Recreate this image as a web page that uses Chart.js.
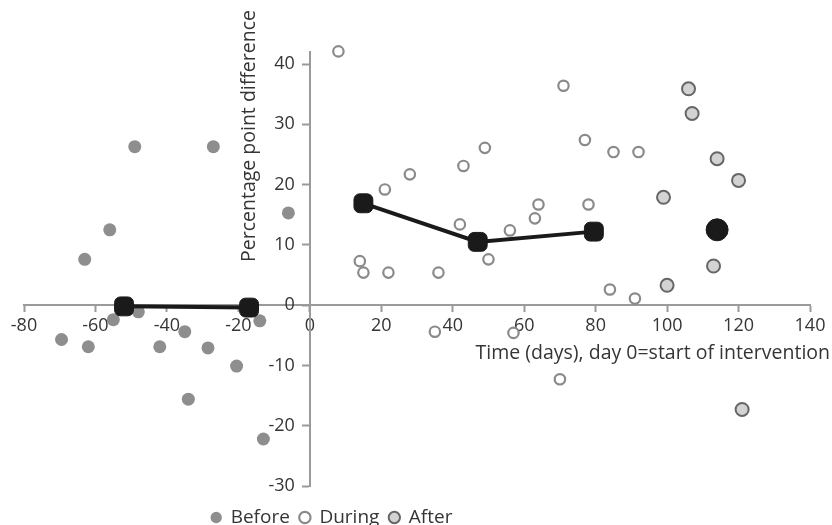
<!DOCTYPE html>
<html>
<head>
<meta charset="utf-8">
<script src="https://cdn.jsdelivr.net/npm/chart.js@4.4.1/dist/chart.umd.min.js"></script>
<style>
  html, body { margin: 0; padding: 0; background: #fff; }
  #wrap { width: 832px; height: 525px; }
</style>
</head>
<body>
<div id="wrap"><canvas id="timeChart"></canvas></div>
<script>
// values
const beforeX = [-49, -27, -56, -6, -63, -55, -48, -69.5, -62, -42, -35, -28.5, -34, -20.5, -14, -13];
const beforeY = [26.3, 26.3, 12.5, 15.3, 7.6, -2.4, -1.1, -5.7, -6.9, -6.9, -4.4, -7.1, -15.6, -10.1, -2.6, -22.2];

const duringX = [8, 21, 28, 43, 49, 71, 77, 42, 56, 63, 64, 78, 85, 92, 14, 15, 22, 36, 50, 35, 57, 70, 84, 91];
const duringY = [42.1, 19.2, 21.7, 23.1, 26.1, 36.4, 27.4, 13.4, 12.4, 14.4, 16.7, 16.7, 25.4, 25.4, 7.3, 5.4, 5.4, 5.4, 7.6, -4.4, -4.6, -12.3, 2.6, 1.1];

const afterX = [106, 107, 114, 120, 99, 100, 113, 121];
const afterY = [35.9, 31.8, 24.3, 20.7, 17.9, 3.3, 6.5, -17.3];

const meanBeforeX = [-52, -17];
const meanBeforeY = [-0.2, -0.4];
const meanDuringX = [15, 47, 79.5];
const meanDuringY = [16.9, 10.5, 12.2];
const meanAfterX = [114];
const meanAfterY = [12.5];

const xTicks = [-80, -60, -40, -20, 0, 20, 40, 60, 80, 100, 120, 140];
const yTicks = [-30, -20, -10, 0, 10, 20, 30, 40];

const xTitle = "Time (days), day 0=start of intervention";
const yTitle = "Percentage point difference";

const toPoints = (xs, ys) => xs.map((x, i) => ({ x: x, y: ys[i] }));

const axisGrey = "#9a9a9a";
const textColor = "#353535";
const font = "Open Sans";
const meanColor = "#1a1a1a";

// axis titles, y tick labels (chart.js puts them right on a crossing axis) and legend placement
const axisPlugin = {
  id: "axisExtras",
  afterLayout(chart) {
    const legend = chart.legend;
    const xs = chart.scales.x;
    const dx = xs.getPixelForValue(0) + 22 - (legend.left + legend.right) / 2;
    legend.left += dx;
    legend.right += dx;
    const dy = chart.chartArea.bottom + 12 - legend.top;
    legend.top += dy;
    legend.bottom += dy;
  },
  afterDraw(chart) {
    const ctx = chart.ctx;
    const xs = chart.scales.x;
    const ys = chart.scales.y;
    const axisX = xs.getPixelForValue(0);
    ctx.save();
    ctx.fillStyle = textColor;

    ctx.font = "18px '" + font + "'";
    ctx.textAlign = "right";
    ctx.textBaseline = "middle";
    yTicks.forEach(v => {
      ctx.fillText(String(v), axisX - 15, ys.getPixelForValue(v));
    });

    ctx.font = "19.5px '" + font + "'";
    ctx.fillText(xTitle, chart.width - 2, ys.getPixelForValue(0) + 48);

    ctx.translate(axisX - 60, chart.chartArea.top + 84);
    ctx.rotate(-Math.PI / 2);
    ctx.textAlign = "center";
    ctx.fillText(yTitle, 0, 0);
    ctx.restore();
  }
};

new Chart(document.getElementById("timeChart"), {
  type: "scatter",
  data: {
    datasets: [
      {
        label: "meanBefore",
        data: toPoints(meanBeforeX, meanBeforeY),
        showLine: true,
        borderColor: meanColor,
        backgroundColor: meanColor,
        borderWidth: 4,
        pointStyle: "rectRounded",
        pointRadius: 11,
        pointBorderWidth: 1
      },
      {
        label: "meanDuring",
        data: toPoints(meanDuringX, meanDuringY),
        showLine: true,
        borderColor: meanColor,
        backgroundColor: meanColor,
        borderWidth: 4,
        pointStyle: "rectRounded",
        pointRadius: 11,
        pointBorderWidth: 1
      },
      {
        label: "meanAfter",
        data: toPoints(meanAfterX, meanAfterY),
        borderColor: meanColor,
        backgroundColor: meanColor,
        pointRadius: 11,
        pointBorderWidth: 1
      },
      {
        label: "Before",
        data: toPoints(beforeX, beforeY),
        backgroundColor: "#8e8e8e",
        borderColor: "#8e8e8e",
        borderWidth: 0,
        pointRadius: 6.5,
        clip: 12
      },
      {
        label: "During",
        data: toPoints(duringX, duringY),
        backgroundColor: "#ffffff",
        borderColor: "#8a8a8a",
        borderWidth: 2.2,
        pointRadius: 5.2,
        clip: 12
      },
      {
        label: "After",
        data: toPoints(afterX, afterY),
        backgroundColor: "#d3d3d3",
        borderColor: "#666666",
        borderWidth: 2,
        pointRadius: 6.5,
        clip: 12
      }
    ]
  },
  options: {
    responsive: true,
    maintainAspectRatio: false,
    animation: false,
    layout: {
      padding: { left: 24, right: 22, top: 52, bottom: 0 }
    },
    plugins: {
      legend: {
        position: "bottom",
        labels: {
          usePointStyle: true,
          color: textColor,
          font: { family: font, size: 19, lineHeight: 1 },
          padding: 10,
          boxWidth: 10,
          boxHeight: 8,
          filter: item => !item.text.startsWith("mean")
        }
      },
      tooltip: { enabled: false }
    },
    scales: {
      x: {
        type: "linear",
        position: { y: 0 },
        min: -80,
        max: 140,
        z: 1,
        afterBuildTicks: scale => { scale.ticks = xTicks.map(v => ({ value: v })); },
        ticks: {
          color: textColor,
          font: { family: font, size: 18 },
          padding: 4,
          maxRotation: 0
        },
        grid: {
          drawOnChartArea: false,
          drawTicks: true,
          tickLength: 6,
          tickWidth: 2,
          color: axisGrey
        },
        border: { display: true, color: axisGrey, width: 2 }
      },
      y: {
        type: "linear",
        position: { x: 0 },
        min: -30,
        max: 42,
        afterBuildTicks: scale => { scale.ticks = yTicks.map(v => ({ value: v })); },
        ticks: {
          display: false
        },
        grid: {
          drawOnChartArea: false,
          drawTicks: true,
          tickLength: 7,
          tickWidth: 2,
          color: axisGrey
        },
        border: { display: true, color: axisGrey, width: 2 }
      }
    }
  },
  plugins: [axisPlugin]
});
</script>
</body>
</html>
